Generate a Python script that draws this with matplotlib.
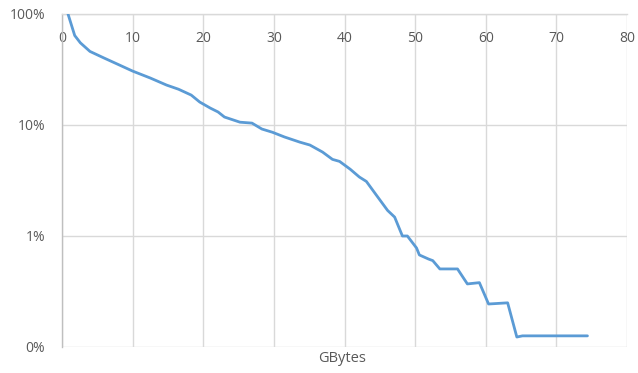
import numpy as np
import matplotlib.pyplot as plt
from matplotlib.ticker import FixedLocator, NullLocator

# data (GBytes vs. percent remaining)
gbytes = [0.85, 1.8, 2.6, 3.96, 6.0, 8.0, 10.0, 12.5, 14.8, 16.5, 18.3, 19.5, 21.0, 22.1,
          23.0, 25.2, 26.9, 28.3, 29.8, 31.5, 33.7, 35.1, 36.9, 38.3, 39.3, 40.8,
          42.1, 43.1, 44.5, 46.1, 47.1, 48.2, 48.9, 50.2, 50.6, 51.9, 52.5, 53.5,
          56.0, 57.4, 59.1, 60.4, 63.1, 64.4, 65.2, 74.4]
percent = [100, 64, 55, 46, 40, 35, 30.6, 26.5, 22.9, 21, 18.6, 16.1, 14.2, 13.1,
           11.8, 10.6, 10.4, 9.2, 8.6, 7.8, 7.0, 6.6, 5.7, 4.9, 4.7, 4.0,
           3.4, 3.1, 2.34, 1.7, 1.48, 1.0, 1.0, 0.78, 0.675, 0.62, 0.60, 0.505,
           0.505, 0.37, 0.38, 0.244, 0.25, 0.123, 0.126, 0.126]

x_ticks = [0, 10, 20, 30, 40, 50, 60, 70, 80]
y_ticks = [0.1, 1, 10, 100]
y_labels = ["0%", "1%", "10%", "100%"]

plt.rcParams['font.family'] = ['Open Sans', 'DejaVu Sans']

fig = plt.figure(figsize=(6.38, 3.73), dpi=100)
ax = fig.add_axes([62 / 638, 1 - 347 / 373, 565 / 638, 333 / 373])

ax.plot(gbytes, percent, color='#5B9BD5', linewidth=2.0, solid_joinstyle='round',
        solid_capstyle='round', zorder=3)

ax.set_yscale('log')
ax.set_ylim(0.1, 100)
ax.set_xlim(0, 80)
ax.yaxis.set_major_locator(FixedLocator(y_ticks))
ax.yaxis.set_minor_locator(NullLocator())
ax.set_yticklabels(y_labels)
ax.set_xticks(x_ticks)

ax.xaxis.tick_top()
ax.tick_params(axis='x', length=0, pad=-23, labelsize=10, labelcolor='#595959')
ax.tick_params(axis='y', length=0, pad=12, labelsize=10, labelcolor='#595959')

ax.grid(True, color='#D9D9D9', linewidth=1.0)
for side in ['right', 'bottom']:
    ax.spines[side].set_visible(False)
ax.spines['left'].set_color('#BFBFBF')
ax.spines['left'].set_linewidth(1.0)
ax.spines['top'].set_color('#D9D9D9')
ax.spines['top'].set_linewidth(1.0)
ax.set_axisbelow(True)

fig.text(342 / 638, 1 - 358 / 373, "GBytes", ha='center', va='center',
         fontsize=10.5, color='#595959')

fig.savefig('out.png', dpi=100, facecolor='white')
